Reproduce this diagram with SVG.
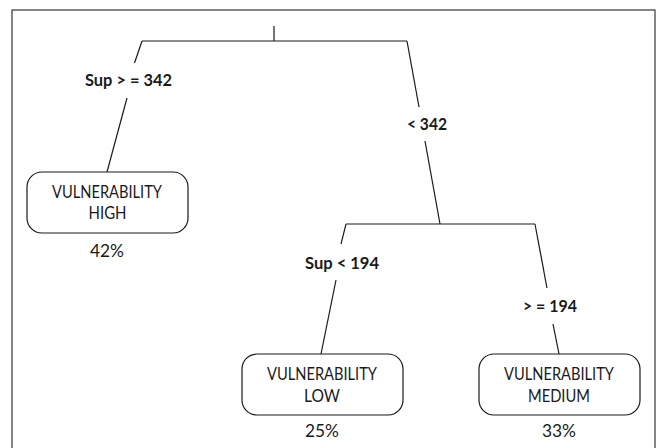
<svg xmlns="http://www.w3.org/2000/svg" width="660" height="448" viewBox="0 0 660 448">
<style>
.frame{fill:none;stroke:#444;stroke-width:1.3}
.edge{fill:none;stroke:#1a1a1a;stroke-width:1.2}
.box{fill:#fff;stroke:#1a1a1a;stroke-width:1.2}
.t{font-family:Lato,"Liberation Sans",Arial,sans-serif;font-size:17px;fill:#1a1a1a;text-anchor:middle}
.b{font-family:Lato,"Liberation Sans",Arial,sans-serif;font-size:17.5px;font-weight:bold;fill:#1a1a1a;text-anchor:middle}
</style>
<rect x="0" y="0" width="660" height="448" fill="#fff"/>
<rect class="frame" x="12" y="10" width="643" height="450"/>
<g id="connectors">
<line class="edge" x1="274" y1="26" x2="274" y2="41"/>
<line class="edge" x1="142" y1="41" x2="407" y2="41"/>
<line class="edge" x1="142" y1="41" x2="134.5" y2="63"/>
<line class="edge" x1="127" y1="98" x2="107" y2="172"/>
<line class="edge" x1="407" y1="41" x2="419" y2="107"/>
<line class="edge" x1="425" y1="141" x2="440" y2="224"/>
<line class="edge" x1="346" y1="224" x2="535" y2="224"/>
<line class="edge" x1="346" y1="224" x2="341" y2="244"/>
<line class="edge" x1="336" y1="280" x2="321" y2="354"/>
<line class="edge" x1="535" y1="224" x2="547" y2="288"/>
<line class="edge" x1="553" y1="324" x2="559" y2="354"/>
<text class="b" x="128.5" y="86" textLength="87" lengthAdjust="spacingAndGlyphs">Sup &gt; = 342</text>
<text class="b" x="427" y="130" textLength="40" lengthAdjust="spacingAndGlyphs">&lt; 342</text>
<text class="b" x="342" y="269" textLength="74" lengthAdjust="spacingAndGlyphs">Sup &lt; 194</text>
<text class="b" x="550" y="312" textLength="54" lengthAdjust="spacingAndGlyphs">&gt; = 194</text>
</g>
<g id="node-high">
<rect class="box" x="27" y="172" width="161" height="61" rx="15"/>
<text class="t" x="107" y="197.5" textLength="110" lengthAdjust="spacingAndGlyphs">VULNERABILITY</text>
<text class="t" x="107.5" y="219" textLength="38" lengthAdjust="spacingAndGlyphs">HIGH</text>
<text class="t" x="107" y="256.5" textLength="34" lengthAdjust="spacingAndGlyphs">42%</text>
</g>
<g id="node-low">
<rect class="box" x="242" y="354" width="161" height="61" rx="15"/>
<text class="t" x="322" y="379.5" textLength="110" lengthAdjust="spacingAndGlyphs">VULNERABILITY</text>
<text class="t" x="322" y="401.5" textLength="36" lengthAdjust="spacingAndGlyphs">LOW</text>
<text class="t" x="322" y="437" textLength="34" lengthAdjust="spacingAndGlyphs">25%</text>
</g>
<g id="node-medium">
<rect class="box" x="479" y="354" width="161" height="61" rx="15"/>
<text class="t" x="559" y="379.5" textLength="110" lengthAdjust="spacingAndGlyphs">VULNERABILITY</text>
<text class="t" x="559" y="401.5" textLength="62" lengthAdjust="spacingAndGlyphs">MEDIUM</text>
<text class="t" x="559" y="437" textLength="34" lengthAdjust="spacingAndGlyphs">33%</text>
</g>
</svg>
